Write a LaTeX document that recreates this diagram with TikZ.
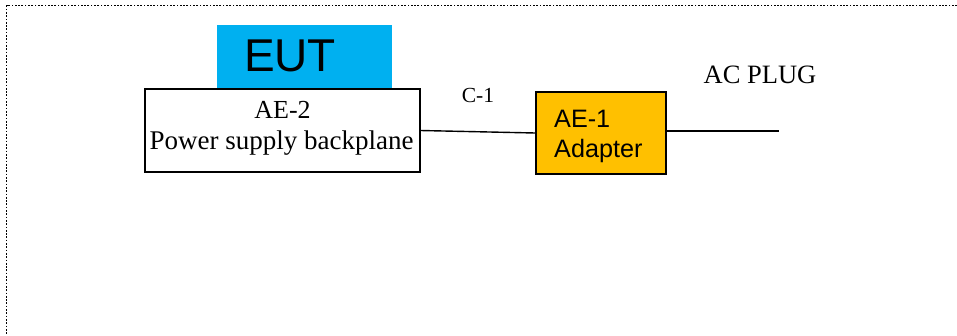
\documentclass[tikz,border=0pt]{standalone}
\usepackage{fontspec}
\setmainfont{Liberation Serif}
\newfontfamily\arialf{Liberation Sans}
\definecolor{eutblue}{HTML}{00B0F0}
\definecolor{aeorange}{HTML}{FFC000}
\begin{document}
\begin{tikzpicture}[x=1pt,y=-1pt,
  border/.style={line width=1.7pt, dash pattern=on 1.7pt off 1.6pt},
  eutbox/.style={rectangle, fill=eutblue, draw=none, inner sep=0, minimum width=175pt, minimum height=64pt},
  aebox/.style={rectangle, draw=black, line width=1.3pt, inner sep=0},
  wire/.style={line width=1.4pt},
  serift/.style={inner sep=0, anchor=base, font=\fontsize{#1}{#1}\selectfont},
  sanst/.style={inner sep=0, anchor=base west, font=\arialf\fontsize{#1}{#1}\selectfont}
]
\useasboundingbox (0,0) rectangle (957,335);
\draw[border] (957,5.5) -- (6.5,5.5) -- (6.5,335);
\node[eutbox] (eut) at (304.5,57) {};
\node[aebox, fill=white, minimum width=275pt, minimum height=83pt] (ae2) at (282.5,130.5) {};
\node[aebox, fill=aeorange, minimum width=130pt, minimum height=82pt] (ae1) at (601,133) {};
\node[inner sep=0, anchor=base, font=\arialf\fontsize{46}{46}\selectfont] (euttxt) at (290,71) {EUT};
\node[serift=26] (ae2a) at (282.5,118) {AE-2};
\node[serift=27] (ae2b) at (281.5,149) {Power supply backplane};
\node[serift=21.5] (c1) at (478,102) {C-1};
\node[serift=26.5] (plugtxt) at (760,83) {AC PLUG};
\node[sanst=25.2] (ae1a) at (554,127) {AE-1};
\node[sanst=25.2] (ae1b) at (554,157) {Adapter};
\coordinate (plug) at (779,131);
\draw[wire] (ae2.east) -- (ae1.west);
\draw[wire] (ae1.east |- plug) -- (plug);
\end{tikzpicture}
\end{document}
